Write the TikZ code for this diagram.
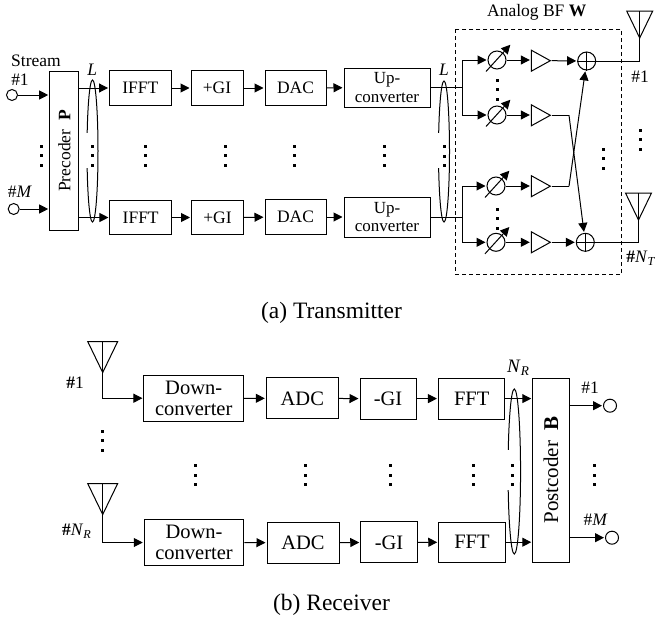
\documentclass[tikz,border=0pt]{standalone}
\usepackage{fontspec}
\setmainfont{Liberation Serif}
\usepackage{tikz}
\usetikzlibrary{arrows.meta,shapes.geometric}
\tikzset{
  wire/.style={line width=1pt},
  sig/.style={line width=1pt,-{Triangle[length=9pt,width=9pt]},shorten >=1pt},
  txa/.style={font=\fontsize{17.5}{19}\selectfont},
  rxa/.style={font=\fontsize{20.5}{21}\selectfont},
  captext/.style={font=\fontsize{23.5}{25}\selectfont},
  blkt/.style={draw,line width=1pt,inner sep=0pt,align=center,txa},
  blkr/.style={draw,line width=1pt,inner sep=0pt,align=center,rxa},
  port/.style={circle,draw,line width=1pt,inner sep=0pt,minimum size=11pt},
  rot/.style={circle,draw,line width=1pt,inner sep=0pt,minimum size=18pt},
  pa/.style={isosceles triangle,isosceles triangle stretches,draw,line width=1pt,inner sep=0pt,minimum width=21pt,minimum height=19pt},
  bus/.style={ellipse,draw,line width=1pt,inner sep=0pt},
  gap/.style={fill=white,inner sep=0pt,minimum width=8pt}
}
\begin{document}
\begin{tikzpicture}[x=1pt,y=-1pt]
  \useasboundingbox (0,0) rectangle (656,621);
  % transmitter
  \node[blkt,minimum width=29,minimum height=159] (pre) at (64.2,151.2) {};
  \node[txa,rotate=90] (pretext) at (64.5,151) {Precoder\ \ \textbf{P}};
  \node[port] (inA) at (12,95) {};
  \node[port] (inB) at (13.7,209) {};
  \node[txa] (stream) at (36,60.5) {Stream};
  \node[txa] (hashA) at (20,80) {\#1};
  \node[txa] (hashB) at (20,192) {\#\textit{M}};
  \draw[sig] (inA) -- (pre.west |- inA);
  \draw[sig] (inB) -- (pre.west |- inB);

  \node[blkt,minimum width=61.5,minimum height=35] (ifftA) at (140.3,88) {IFFT};
  \node[blkt,minimum width=52,minimum height=35] (giA) at (217,88) {+GI};
  \node[blkt,minimum width=61,minimum height=35] (dacA) at (295.5,88) {DAC};
  \node[blkt,font=\fontsize{17}{18.5}\selectfont,minimum width=86,minimum height=39] (upA) at (387,87.5) {Up-\\converter};
  \node[blkt,minimum width=61.5,minimum height=34] (ifftB) at (140.7,217.5) {IFFT};
  \node[blkt,minimum width=52,minimum height=34] (giB) at (217.5,217.5) {+GI};
  \node[blkt,minimum width=61,minimum height=35] (dacB) at (295.5,217) {DAC};
  \node[blkt,font=\fontsize{17}{18.5}\selectfont,minimum width=86,minimum height=40] (upB) at (387,217) {Up-\\converter};

  \node[bus,minimum width=11,minimum height=142] (busA) at (92.5,151) {};
  \node[gap,minimum height=35] (gapA) at (89,150.5) {};
  \node[bus,minimum width=11,minimum height=141] (busB) at (444,151.5) {};
  \node[gap,minimum height=35] (gapB) at (440.5,150) {};
  \node[txa] (labL) at (92.3,70) {\textit{L}};
  \node[txa] (labLL) at (444,70) {\textit{L}};

  \draw[sig] (pre.east |- ifftA) -- (ifftA);
  \draw[sig] (ifftA) -- (giA);
  \draw[sig] (giA) -- (dacA);
  \draw[sig] (dacA) -- (upA);
  \draw[sig] (pre.east |- ifftB) -- (ifftB);
  \draw[sig] (ifftB) -- (giB);
  \draw[sig] (giB) -- (dacB);
  \draw[sig] (dacB) -- (upB);

  % analog beamformer
  \draw[line width=1pt,dash pattern=on 4pt off 3pt] (455.7,29) rectangle (621.3,274.7);
  \node[txa] (bf) at (536.7,12) {Analog BF \textbf{W}};

  \node[rot] (psA) at (497,60) {};
  \node[rot] (psB) at (497,115) {};
  \node[rot] (psC) at (496,186) {};
  \node[rot] (psD) at (496,242.3) {};
  \coordinate (forkA) at (462.7,87.5);
  \coordinate (forkB) at (462,217);
  \draw[wire] (upA) -- (forkA);
  \draw[wire] (upB) -- (forkB);
  \draw[sig] (forkA) |- (psA);
  \draw[sig] (forkA) |- (psB);
  \draw[sig] (forkB) |- (psC);
  \draw[sig] (forkB) |- (psD);
  \draw[sig] ([shift={(-11,11.5)}]psA.center) -- ([shift={(14,-16)}]psA.center);
  \draw[sig] ([shift={(-11,11.5)}]psB.center) -- ([shift={(14,-16)}]psB.center);
  \draw[sig] ([shift={(-11,11.5)}]psC.center) -- ([shift={(14,-16)}]psC.center);
  \draw[sig] ([shift={(-11,11.5)}]psD.center) -- ([shift={(14,-16)}]psD.center);

  \node[pa] (paA) at (537.5,60.7) {};
  \node[pa] (paB) at (537.5,115.3) {};
  \node[pa] (paC) at (537.5,186.2) {};
  \node[pa] (paD) at (537.5,242.3) {};
  \draw[sig] (psA) -- (paA.west |- psA);
  \draw[sig] (psB) -- (paB.west |- psB);
  \draw[sig] (psC) -- (paC.west |- psC);
  \draw[sig] (psD) -- (paD.west |- psD);

  \node[rot] (addA) at (586.7,61) {};
  \node[rot] (addB) at (585.3,242.3) {};
  \draw[wire] (addA.north) -- (addA.south);
  \draw[wire] (addA.west) -- (addA.east);
  \draw[wire] (addB.north) -- (addB.south);
  \draw[wire] (addB.west) -- (addB.east);
  \coordinate (bendB) at (569,115.3);
  \coordinate (bendC) at (569,186.2);
  \draw[sig] (paA.east) -- (addA);
  \draw[sig] (paD.east) -- (addB);
  \draw[wire] (paB.east) -- (bendB);
  \draw[wire] (paC.east) -- (bendC);
  \draw[sig] (bendB) -- (addB);
  \draw[sig] (bendC) -- (addA);

  \coordinate (antA) at (639.7,38);
  \coordinate (antB) at (638.5,220);
  \draw[wire] (antA) -- ++(-13,-27) -- ++(26,0) -- cycle;
  \draw[wire] (antB) -- ++(-13,-27) -- ++(26,0) -- cycle;
  \draw[wire] (antA) -- ++(0,-27);
  \draw[wire] (antB) -- ++(0,-27);
  \draw[wire] (addA) -| (antA);
  \draw[wire] (addB) -| (antB);
  \node[txa] (hashC) at (640,77) {\#1};
  \node[txa] (hashD) at (641,258) {\textbf{\#}\textit{N}\textsubscript{\textit{T}}};

  \node[captext] (capA) at (331.5,313) {(a) Transmitter};

  % receiver
  \coordinate (antC) at (102.7,372.5);
  \coordinate (antD) at (102.7,514.5);
  \draw[wire] (antC) -- ++(-15,-31) -- ++(30,0) -- cycle;
  \draw[wire] (antD) -- ++(-15,-31) -- ++(30,0) -- cycle;
  \draw[wire] (antC) -- ++(0,-31);
  \draw[wire] (antD) -- ++(0,-31);
  \node[txa] (hashE) at (75,383) {\textbf{\#}1};
  \node[txa] (hashF) at (76.7,531) {\textbf{\#}\textit{N}\textsubscript{\textit{R}}};

  \node[blkr,minimum width=99.5,minimum height=46] (downA) at (193.7,398.2) {Down-\\converter};
  \node[blkr,minimum width=72,minimum height=41] (adcA) at (302.3,398.4) {ADC};
  \node[blkr,minimum width=56,minimum height=41] (rgiA) at (388,398.6) {-GI};
  \node[blkr,minimum width=66.5,minimum height=41] (fftA) at (471.7,398.6) {FFT};
  \node[blkr,minimum width=99.5,minimum height=46] (downB) at (194,542.5) {Down-\\converter};
  \node[blkr,minimum width=72,minimum height=41] (adcB) at (303,542.7) {ADC};
  \node[blkr,minimum width=56.5,minimum height=41] (rgiB) at (389,542.4) {-GI};
  \node[blkr,minimum width=66.5,minimum height=40] (fftB) at (472,542.2) {FFT};
  \node[blkr,minimum width=36.5,minimum height=183.5] (post) at (551,470.5) {};
  \node[font=\fontsize{21}{23}\selectfont,rotate=90] (posttext) at (551,470) {Postcoder\ \ \textbf{B}};

  \node[bus,minimum width=12.5,minimum height=165] (busC) at (514.3,471.5) {};
  \node[gap,minimum height=40] (gapC) at (511,470) {};
  \node[font=\fontsize{19}{20}\selectfont] (labNR) at (518.3,368) {\textit{N}\textsubscript{\textit{R}}};

  \draw[sig] (antC) |- (downA);
  \draw[sig] (antD) |- (downB);
  \draw[sig] (downA) -- (adcA);
  \draw[sig] (adcA) -- (rgiA);
  \draw[sig] (rgiA) -- (fftA);
  \draw[sig] (fftA) -- (post.west |- fftA);
  \draw[sig] (downB) -- (adcB);
  \draw[sig] (adcB) -- (rgiB);
  \draw[sig] (rgiB) -- (fftB);
  \draw[sig] (fftB) -- (post.west |- fftB);

  \node[port,minimum size=13pt] (outA) at (610,405.7) {};
  \node[port,minimum size=13pt] (outB) at (612,537.7) {};
  \draw[sig] (post.east |- outA) -- (outA);
  \draw[sig] (post.east |- outB) -- (outB);
  \node[txa] (hashG) at (590,388) {\#1};
  \node[txa] (hashH) at (595.7,520) {\#\textit{M}};

  \node[captext] (capB) at (331.5,605) {(b) Receiver};

  % vertical dots
  \foreach \x/\y in {41.7/146,92.5/146,145.7/146,225.3/146,294.3/146,384/146,444/146.7,
      603.7/149,640/130,497/80,497/209,
      102/431,195.3/465.7,305.3/465.7,390/465.7,473.3/465.7,512.7/465.7,594.3/465.7}
    \foreach \k in {0,1,2}
      \fill (\x-1.5,\y-1.5+9.5*\k) rectangle (\x+1.5,\y+1.5+9.5*\k);
\end{tikzpicture}
\end{document}
